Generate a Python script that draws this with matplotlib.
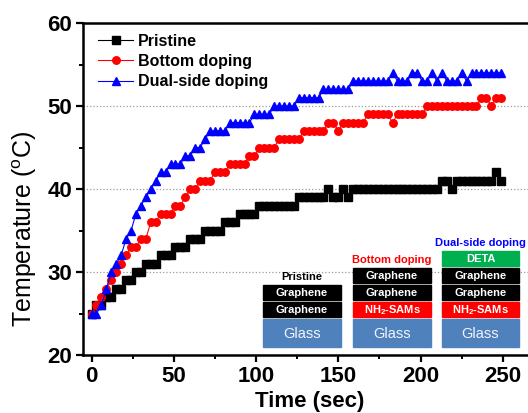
import matplotlib
matplotlib.use('Agg')
import matplotlib.pyplot as plt
import numpy as np
from matplotlib.patches import Rectangle

plt.rcParams['font.family'] = ['Liberation Sans', 'DejaVu Sans']
plt.rcParams['mathtext.fontset'] = 'custom'
plt.rcParams['mathtext.rm'] = 'Liberation Sans'
plt.rcParams['mathtext.bf'] = 'Liberation Sans:bold'

# sampling every 3 sec
time = np.arange(0, 250, 3)

pristine = [25, 26, 26, 27, 27, 28, 28, 29, 29, 30, 30, 31, 31, 31, 32, 32, 32, 33, 33, 33,
            34, 34, 34, 35, 35, 35, 35, 36, 36, 36, 37, 37, 37, 37,
            38, 38, 38, 38, 38, 38, 38, 38, 39, 39, 39, 39, 39, 39, 40, 39, 39, 40, 39,
            40, 40, 40, 40, 40, 40, 40, 40, 40, 40, 40, 40, 40, 40, 40, 40, 40, 40,
            41, 41, 40, 41, 41, 41, 41, 41, 41, 41, 41, 42, 41]

bottom = [25, 26, 27, 28, 29, 30, 31, 32, 33, 33, 34, 34, 36, 36, 37, 37, 37, 38, 38, 39,
          40, 40, 41, 41, 41, 42, 42, 42, 43, 43, 43, 43, 44, 44, 45, 45, 45, 45,
          46, 46, 46, 46, 46, 47, 47, 47, 47, 47, 48, 48, 47, 48, 48, 48, 48, 48,
          49, 49, 49, 49, 49, 48, 49, 49, 49, 49, 49, 49,
          50, 50, 50, 50, 50, 50, 50, 50, 50, 50, 50, 51, 51, 50, 51, 51]

dual = [25, 25, 26, 28, 30, 31, 32, 34, 35, 37, 38, 39, 40, 41, 42, 42, 43, 43, 43, 44,
        44, 45, 45, 46, 47, 47, 47, 47, 48, 48, 48, 48, 48, 49, 49, 49, 49,
        50, 50, 50, 50, 50, 51, 51, 51, 51, 51, 52, 52, 52, 52, 52, 52,
        53, 53, 53, 53, 53, 53, 53, 53, 54, 53, 53, 53, 54, 54, 53, 53, 54, 53, 54,
        53, 53, 53, 54, 53, 54, 54, 54, 54, 54, 54, 54]

series_names = ['Pristine', 'Bottom doping', 'Dual-side doping']
series_colors = ['black', 'red', 'blue']
series_markers = ['s', 'o', '^']

# inset schematic: layers from bottom up (glass is always at the bottom)
stack_titles = ['Pristine', 'Bottom doping', 'Dual-side doping']
stack_title_colors = ['black', 'red', 'blue']
stack_layers = [['Graphene', 'Graphene'],
                ['NH$_\\mathbf{2}$-SAMs', 'Graphene', 'Graphene'],
                ['NH$_\\mathbf{2}$-SAMs', 'Graphene', 'Graphene', 'DETA']]
layer_colors = {'Graphene': 'black', 'NH$_\\mathbf{2}$-SAMs': '#FF0000', 'DETA': '#00B050'}

fig = plt.figure(figsize=(5.28, 4.13), dpi=100)
ax = fig.add_axes([0.1578, 0.1404, 0.8568, 0.8039])

for vals, name, c, m in zip([pristine, bottom, dual], series_names, series_colors, series_markers):
    ms = 6.3 if m == '^' else 5.4
    ax.plot(time, vals, color=c, marker=m, ms=ms, mec=c, mfc=c, lw=0.8, label=name)

ax.set_xlim(-5, 270)
ax.set_ylim(20, 60)
ax.set_xticks([0, 50, 100, 150, 200, 250])
ax.set_xticks([25, 75, 125, 175, 225], minor=True)
ax.set_yticks([20, 30, 40, 50, 60])
ax.set_yticks([25, 35, 45, 55], minor=True)
ax.yaxis.grid(True, linestyle=':', color='#999999', lw=0.9)
ax.set_axisbelow(True)

for s in ['left', 'bottom', 'top', 'right']:
    ax.spines[s].set_linewidth(1.8)
ax.tick_params(which='major', direction='out', length=5, width=1.6, labelsize=16, pad=3)
ax.tick_params(which='minor', direction='out', length=3, width=1.4)
ax.tick_params(top=False, right=False, which='both')
for lab in ax.get_xticklabels() + ax.get_yticklabels():
    lab.set_fontweight('bold')

ax.set_xlabel('Time (sec)', fontsize=16, fontweight='bold', labelpad=3)
ax.set_ylabel('Temperature ($^\\mathregular{o}$C)', fontsize=18)
ax.yaxis.set_label_coords(-0.099, 0.38)

leg = ax.legend(loc='upper left', bbox_to_anchor=(0.033, 0.968), frameon=False,
                borderpad=0, borderaxespad=0, handlelength=2.2, handletextpad=0.3,
                labelspacing=0.33, prop={'weight': 'bold', 'size': 11.5})

# inset drawn in figure pixel coordinates
ins = fig.add_axes([260 / 528, (413 - 350) / 413, 262 / 528, 115 / 413])
ins.set_xlim(260, 522)
ins.set_ylim(350, 235)
ins.axis('off')

col_left = [263.3, 353.3, 441.7]
box_w = 77.5
glass_top, glass_bot = 319.3, 347.3
layer_h = 14.7

for i, x0 in enumerate(col_left):
    ins.add_patch(Rectangle((x0, glass_top), box_w, glass_bot - glass_top, color='#4F81BD'))
    ins.text(x0 + box_w / 2, (glass_top + glass_bot) / 2 + 0.5, 'Glass', color='#F2F5FA',
             fontsize=10.5, ha='center', va='center')
    top = glass_top
    for lay in stack_layers[i]:
        y1 = top - 2.3
        y0 = y1 - layer_h
        ins.add_patch(Rectangle((x0, y0), box_w, layer_h, color=layer_colors[lay]))
        ins.text(x0 + box_w / 2, (y0 + y1) / 2 + 0.5, lay, color='white', fontsize=8,
                 fontweight='bold', ha='center', va='center')
        top = y0
    ins.text(x0 + box_w / 2, top - 8.5, stack_titles[i], color=stack_title_colors[i],
             fontsize=8, fontweight='bold', ha='center', va='center')

fig.savefig('out.png', dpi=100)
